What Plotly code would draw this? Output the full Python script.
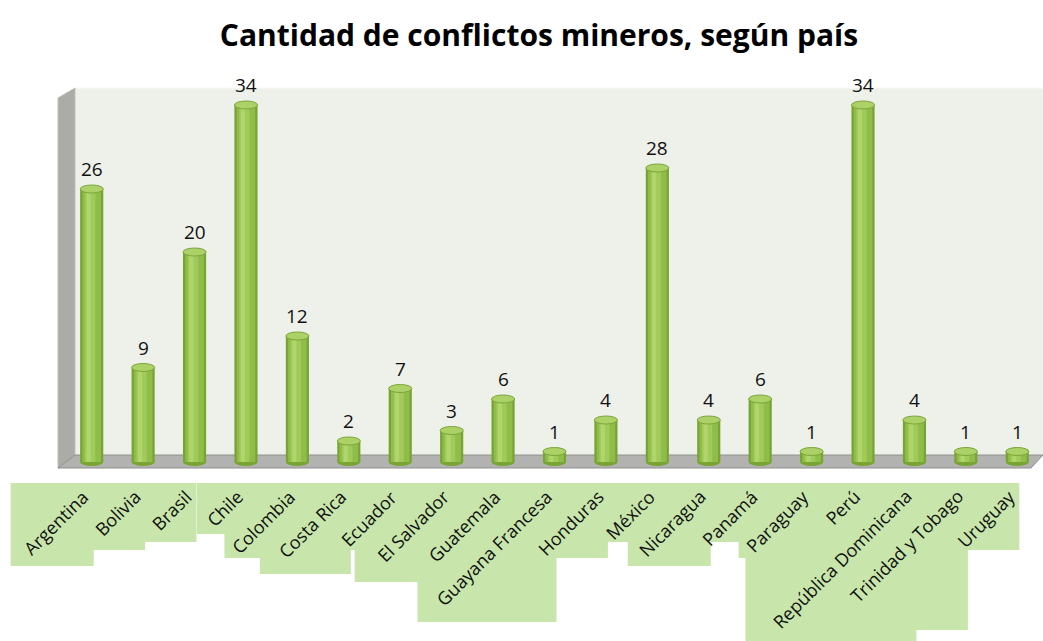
import plotly.graph_objects as go

# ---- data ----
paises = ["Argentina", "Bolivia", "Brasil", "Chile", "Colombia", "Costa Rica", "Ecuador",
          "El Salvador", "Guatemala", "Guayana Francesa", "Honduras", "México", "Nicaragua",
          "Panamá", "Paraguay", "Perú", "República Dominicana", "Trinidad y Tobago", "Uruguay"]
conflictos = [26, 9, 20, 34, 12, 2, 7, 3, 6, 1, 4, 28, 4, 6, 1, 34, 4, 1, 1]

title_text = "Cantidad de conflictos mineros, según país"

# ---- geometry (pixels) ----
W, H = 1043, 641
ML, MR, MT, MB = 66, 0, 88, 175
PW = W - ML - MR
PH = H - MT - MB
YMIN, YMAX = -0.38, 35.62
n = len(paises)

def px_x(X):
    return (X - ML) / PW

def px_y(Y):
    return (H - MB - Y) / PH

FONT = "Open Sans"

fig = go.Figure()

# cylinder bars: overlaid bars of decreasing width for shading
bar_layers = [
    (0.45, 0.0, "#78a434"),
    (0.36, 0.0, "#90bd4a"),
    (0.20, -0.03, "#a0ca5a"),
    (0.08, -0.06, "#afd56c"),
]
for w, shift, col in bar_layers:
    fig.add_trace(go.Bar(
        x=list(range(n)), y=conflictos, width=w,
        offset=[-w / 2 + shift] * n,
        marker=dict(color=col, line=dict(width=0)),
        hoverinfo="skip", showlegend=False,
    ))

shapes = []

# back wall
shapes.append(dict(type="rect", xref="paper", yref="paper",
                   x0=px_x(75), x1=1.0, y0=px_y(455), y1=1.0,
                   fillcolor="#eef0ea", line=dict(color="#f6f7f3", width=1), layer="below"))
# left wall
shapes.append(dict(type="path", xref="paper", yref="paper",
                   path=f"M {px_x(58)} {px_y(98)} L {px_x(75)} {px_y(88)} L {px_x(75)} {px_y(455)} L {px_x(58)} {px_y(468)} Z",
                   fillcolor="#abaca8", line=dict(color="#bdbdb9", width=1), layer="below"))
# floor
shapes.append(dict(type="path", xref="paper", yref="paper",
                   path=f"M {px_x(75)} {px_y(455)} L {px_x(1043)} {px_y(455)} L {px_x(1031)} {px_y(468)} L {px_x(58)} {px_y(468)} Z",
                   fillcolor="#b2b2b0", line=dict(color="#8e8e8c", width=1), layer="below"))

# label background boxes (around rotated category labels)
for i, p in enumerate(paises):
    s = 11 + 8 * len(p)
    cx = ML + (i + 0.5) * PW / n
    shapes.append(dict(type="rect", xref="paper", yref="paper",
                       x0=px_x(cx + 2 - s), x1=px_x(cx + 2),
                       y0=px_y(483 + s), y1=px_y(483),
                       fillcolor="#c8e6ab", line=dict(width=0), layer="below"))

# cylinder bottoms and tops (ellipses)
eh = 0.38
for i, v in enumerate(conflictos):
    shapes.append(dict(type="circle", xref="x", yref="y",
                       x0=i - 0.225, x1=i + 0.225, y0=-eh, y1=eh,
                       fillcolor="#78a434", line=dict(width=0), layer="below"))
for i, v in enumerate(conflictos):
    shapes.append(dict(type="circle", xref="x", yref="y",
                       x0=i - 0.225, x1=i + 0.225, y0=v - eh, y1=v + eh,
                       fillcolor="#acd267", line=dict(color="#7aa53a", width=1), layer="above"))

annotations = []
# value labels
for i, v in enumerate(conflictos):
    annotations.append(dict(x=i, y=v, xref="x", yref="y", text=str(v),
                            showarrow=False, yanchor="bottom", yshift=5,
                            font=dict(family=FONT, size=19, color="#111111")))
# category labels (rotated)
for i, p in enumerate(paises):
    annotations.append(dict(x=i, y=px_y(482), xref="x", yref="paper", text=p,
                            showarrow=False, textangle=-45, xanchor="right", yanchor="top",
                            xshift=5,
                            font=dict(family=FONT, size=18, color="#111111")))

fig.update_layout(
    width=W, height=H,
    margin=dict(l=ML, r=MR, t=MT, b=MB, pad=0),
    paper_bgcolor="white",
    plot_bgcolor="rgba(0,0,0,0)",
    barmode="overlay",
    title=dict(text=f"<b>{title_text}</b>", x=539 / W, xanchor="center",
               y=1 - 35 / H, yanchor="middle", xref="container", yref="container",
               font=dict(family=FONT, size=30, color="#000000")),
    xaxis=dict(range=[-0.5, n - 0.5], showgrid=False, zeroline=False,
               showline=False, ticks="", showticklabels=False),
    yaxis=dict(range=[YMIN, YMAX], showgrid=False, zeroline=False, showline=False,
               showticklabels=False, ticks=""),
    shapes=shapes,
    annotations=annotations,
)

fig.write_html("out.html", config={"displayModeBar": False},
               post_script="document.body.style.margin='0px';document.body.style.overflow='hidden';")
